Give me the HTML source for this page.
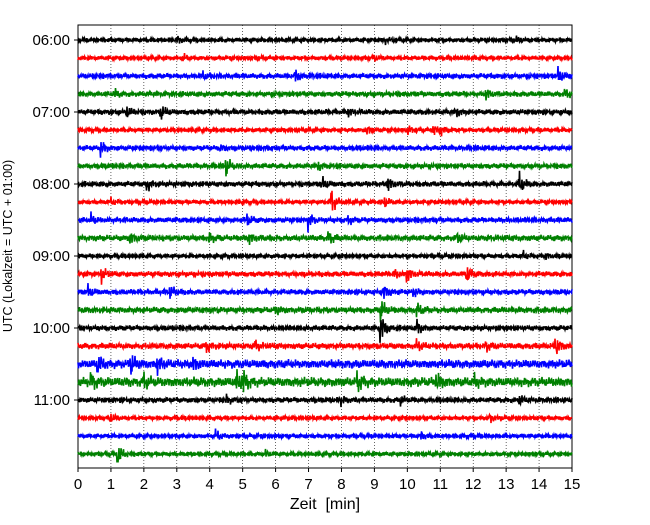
<!DOCTYPE html>
<html><head><meta charset="utf-8"><style>
body{margin:0;background:#fff}
svg text{font-family:"Liberation Sans",sans-serif}
</style></head><body>
<svg id="chart" width="650" height="520" xmlns="http://www.w3.org/2000/svg">
<rect x="78" y="25" width="494" height="443" fill="#fff" stroke="#000" stroke-width="1"/>
<g id="grid"></g><g id="traces"></g><g id="axes"></g>
<text x="325" y="509" font-size="16" text-anchor="middle" xml:space="preserve">Zeit  [min]</text>
<text transform="translate(12,246) rotate(-90)" text-anchor="middle" font-size="12.5">UTC (Lokalzeit = UTC + 01:00)</text>
</svg>
<script>
const xTicks=[0,1,2,3,4,5,6,7,8,9,10,11,12,13,14,15];
const hourLabels=["06:00","07:00","08:00","09:00","10:00","11:00"];
const traceColors=["#000000","#ff0000","#0000ff","#008000"];
const noiseAmp=[2.5,2.5,3,3,3,2.5,3,3,3,2.5,3,3.5,2.5,3,3,3.5,3,3.5,5,5.5,3,2.5,2.5,2.5];
const events=[
[[3,4],[9.3,3],[13.3,3]],
[[3.2,3],[9,3]],
[[6.6,6],[14.6,7],[3.8,3]],
[[1.1,4],[12.4,5],[14.8,4]],
[[1.5,5],[2.5,8],[8.2,4],[11.5,4]],
[[8.8,4],[10,5],[10.8,5],[11,4]],
[[0.7,7],[4.3,3]],
[[4.5,9],[7.3,4]],
[[2.1,6],[7.4,7],[9.4,8],[13.4,10]],
[[1,3],[7.7,12],[9.3,5]],
[[0.4,5],[5.1,7],[7,8],[8.2,4]],
[[1.6,5],[4,4],[5.2,5],[7.6,6],[11.5,5]],
[[13.5,4],[14.2,3]],
[[0.7,8],[10,7],[11.8,9],[9.6,5]],
[[0.3,6],[2.8,6],[9.3,6],[10.2,4]],
[[9.2,10],[10.3,6],[6,4]],
[[9.2,14],[10.3,7]],
[[3.9,5],[5.4,4],[10.3,5],[14.5,10],[12.4,4]],
[[0.6,9],[1.6,10],[2.4,8],[3.5,6]],
[[0.4,7],[2,6],[4.8,10],[5,10],[8.5,8],[10.9,8],[12,6]],
[[4.5,4],[8,4],[9.8,4],[13.4,5]],
[[1,4],[12.5,5]],
[[4.2,5],[10.4,4]],
[[1.2,12],[5.7,3]]
];
const NS="http://www.w3.org/2000/svg";
const X0=78,X1=572,Y0=40,DY=18;
const xS=m=>X0+(X1-X0)*m/15;
const yS=i=>Y0+i*DY;
const grid=document.getElementById('grid'),axes=document.getElementById('axes'),tr=document.getElementById('traces');
xTicks.forEach(t=>{
 if(t>0&&t<15){const l=document.createElementNS(NS,'line');
 l.setAttribute('x1',xS(t));l.setAttribute('x2',xS(t));l.setAttribute('y1',25);l.setAttribute('y2',468);
 l.setAttribute('stroke','#000');l.setAttribute('stroke-width','0.6');l.setAttribute('stroke-dasharray','1,2');
 
 grid.appendChild(l);}
 const tk=document.createElementNS(NS,'line');
 tk.setAttribute('x1',xS(t));tk.setAttribute('x2',xS(t));tk.setAttribute('y1',468);tk.setAttribute('y2',472);tk.setAttribute('stroke','#000');
 
 axes.appendChild(tk);
 const tx=document.createElementNS(NS,'text');
 tx.setAttribute('x',xS(t));tx.setAttribute('y',489);tx.setAttribute('text-anchor','middle');tx.setAttribute('font-size','15');tx.textContent=t;
 
 axes.appendChild(tx);
});
hourLabels.forEach((h,k)=>{
 const y=yS(k*4);
 const tk=document.createElementNS(NS,'line');
 tk.setAttribute('x1',74);tk.setAttribute('x2',78);tk.setAttribute('y1',y);tk.setAttribute('y2',y);tk.setAttribute('stroke','#000');
 
 axes.appendChild(tk);
 const tx=document.createElementNS(NS,'text');
 tx.setAttribute('x',70);tx.setAttribute('y',y+5);tx.setAttribute('text-anchor','end');tx.setAttribute('font-size','15');tx.textContent=h;
 
 axes.appendChild(tx);
});
noiseAmp.forEach((a,i)=>{
 const base=yS(i);let pts=[];
 for(let k=0;k<=(X1-X0)*2;k++){
  const px=X0+k/2,m=(px-X0)/(X1-X0)*15;
  let env=a;
  events[i].forEach(e=>{const d=m-e[0];if(d>-0.03){env+=e[1]*1.2*Math.exp(-Math.max(d,0)/0.12);}});
  const s=0.6*Math.sin(k*2.7+i)+0.4*Math.sin(k*1.31+i*2.1)+0.25*Math.sin(k*0.37+i*0.7);
  pts.push(px.toFixed(1)+','+(base+env*s*0.8).toFixed(1));
 }
 const p=document.createElementNS(NS,'polyline');
 p.setAttribute('points',pts.join(' '));p.setAttribute('fill','none');
 p.setAttribute('stroke',traceColors[i%4]);p.setAttribute('stroke-width','1.6');
 
 
 tr.appendChild(p);
});
</script>
</body></html>
